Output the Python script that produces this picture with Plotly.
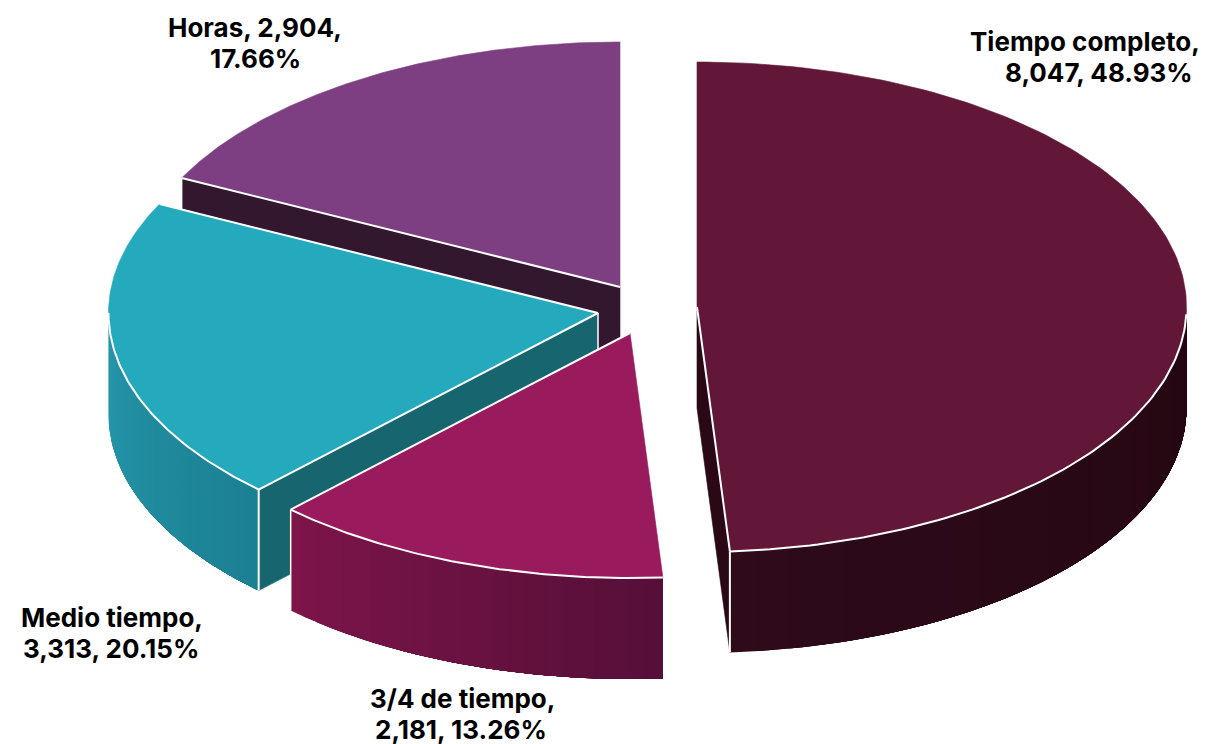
import numpy as np
import plotly.graph_objects as go

# --- data ---
categories = ["Tiempo completo", "3/4 de tiempo", "Medio tiempo", "Horas"]
counts = [8047, 2181, 3313, 2904]
percents = [48.93, 13.26, 20.15, 17.66]
labels = [
    "Tiempo completo,<br>8,047, 48.93%",
    "3/4 de tiempo,<br>2,181, 13.26%",
    "Medio tiempo,<br>3,313, 20.15%",
    "Horas, 2,904,<br>17.66%",
]

# --- style / layout ---
RX, RY, DEPTH = 489.5, 245, 101
apex = {"Tiempo completo": (697, 307), "3/4 de tiempo": (630, 333),
        "Medio tiempo": (598, 313), "Horas": (620, 287)}
top_color = {"Tiempo completo": "#621738", "3/4 de tiempo": "#9a1a5e",
             "Medio tiempo": "#25a9bd", "Horas": "#7d3f82"}
cut_color = {"Tiempo completo": "#2a0816", "Medio tiempo": "#17666f", "Horas": "#33172f"}
wall_from = {"Tiempo completo": (0x2e, 0x0a, 0x1a), "3/4 de tiempo": (0x7d, 0x15, 0x4a),
             "Medio tiempo": (0x25, 0x97, 0xab)}
wall_to = {"Tiempo completo": (0x24, 0x07, 0x12), "3/4 de tiempo": (0x56, 0x0f, 0x38),
           "Medio tiempo": (0x1c, 0x80, 0x93)}
label_lines = {"Tiempo completo": [(1085, 41), (1099, 72.5)],
               "3/4 de tiempo": [(462, 698.5), (461, 729)],
               "Medio tiempo": [(112, 617), (111, 648)],
               "Horas": [(255, 27), (255, 58)]}
FONT = "Inter"
FONT_SIZE = 26
WHITE = "#ffffff"

# slice angles follow from the percentages (clockwise from 12 o'clock)
edges = np.radians(np.concatenate([[0], np.cumsum(percents)]) * 3.6)
span = {c: (edges[i], edges[i + 1]) for i, c in enumerate(categories)}


def pt(cat, t, drop=0.0):
    ax, ay = apex[cat]
    return ax + RX * np.sin(t), ay - RY * np.cos(t) + drop


def arc(cat, t0, t1, drop=0.0, n=90):
    ts = np.linspace(t0, t1, n)
    return pt(cat, ts, drop)


fig = go.Figure()


def poly(xs, ys, color, stroke=0.6):
    xs, ys = list(xs), list(ys)
    fig.add_trace(go.Scatter(x=xs + xs[:1], y=ys + ys[:1], mode="lines", fill="toself",
                             fillcolor=color, line=dict(color=color, width=stroke),
                             hoverinfo="skip", showlegend=False))


def line(xs, ys, width=2.0):
    fig.add_trace(go.Scatter(x=list(xs), y=list(ys), mode="lines",
                             line=dict(color=WHITE, width=width),
                             hoverinfo="skip", showlegend=False))


def hexc(rgb):
    return "#%02x%02x%02x" % tuple(int(round(v)) for v in rgb)


def outer_wall(cat, t0, t1, segs=24):
    # each band reaches to the far end, so the next band paints over it with no seam
    ts = np.linspace(t0, t1, segs + 1)
    a, b = np.array(wall_from[cat], float), np.array(wall_to[cat], float)
    for i in range(segs):
        xa, ya = arc(cat, ts[i], t1, 0, 60)
        xb, yb = arc(cat, t1, ts[i], DEPTH, 60)
        poly(np.r_[xa, xb], np.r_[ya, yb], hexc(a + (b - a) * i / (segs - 1)), stroke=0)


def cut_wall(cat, t):
    ax, ay = apex[cat]
    x, y = pt(cat, t)
    poly([ax, x, x, ax], [ay, y, y + DEPTH, ay + DEPTH], cut_color[cat])


def top(cat):
    ax, ay = apex[cat]
    x, y = arc(cat, *span[cat], n=160)
    poly(np.r_[ax, x], np.r_[ay, y], top_color[cat])


# --- back to front ---
# Horas
c = "Horas"
t0, t1 = span[c]
cut_wall(c, t0)
top(c)
x0, y0 = pt(c, t0)
line([apex[c][0], x0], [apex[c][1], y0])
line([x0, x0], [y0, y0 + DEPTH], 1.5)

# Medio tiempo
c = "Medio tiempo"
t0, t1 = span[c]
outer_wall(c, 1.5 * np.pi, t0)
cut_wall(c, t0)
top(c)
xa, ya = pt(c, t0)
xb, yb = pt(c, t1)
ax, ay = apex[c]
line([xb, ax, xa], [yb, ay, ya])
line([ax, ax], [ay, ay + DEPTH], 1.5)
line([xa, xa], [ya, ya + DEPTH])
xs, ys = arc(c, t0, 1.5 * np.pi)
line(xs, ys)

# 3/4 de tiempo
c = "3/4 de tiempo"
t0, t1 = span[c]
outer_wall(c, t1, t0)
top(c)
ax, ay = apex[c]
xb, yb = pt(c, t1)
xl, yl = pt(c, t1)
line([ax, xb], [ay, yb])
line([xb, xb], [yb, yb + DEPTH], 1.5)
xs, ys = arc(c, t0, t1)
line(xs, ys)

# Tiempo completo
c = "Tiempo completo"
t0, t1 = span[c]
ax, ay = apex[c]
xe, ye = pt(c, t1)
poly([ax, xe, xe, ax], [ay, ye, ye + DEPTH, ay + DEPTH], cut_color[c])
outer_wall(c, t1, np.pi / 2 + 0.03)
top(c)
line([ax, xe], [ay, ye])
line([xe, xe], [ye, ye + DEPTH])
xs, ys = arc(c, np.pi / 2 + 0.03, t1)
line(xs, ys)

for cat, text in zip(categories, labels):
    for (x, y), part in zip(label_lines[cat], text.split("<br>")):
        fig.add_annotation(x=x, y=y, text=f"<b>{part}</b>", showarrow=False,
                           xanchor="center", yanchor="middle", align="center",
                           font=dict(family=FONT, size=FONT_SIZE, color="#000000"))

fig.update_layout(
    width=1230, height=744, margin=dict(l=0, r=0, t=0, b=0),
    paper_bgcolor="#ffffff", plot_bgcolor="#ffffff", showlegend=False,
    xaxis=dict(range=[0, 1230], visible=False, fixedrange=True),
    yaxis=dict(range=[744, 0], visible=False, fixedrange=True),
)
fig.write_html("out.html", config={"displayModeBar": False},
               post_script="document.body.style.margin='0';document.body.style.overflow='hidden';")
